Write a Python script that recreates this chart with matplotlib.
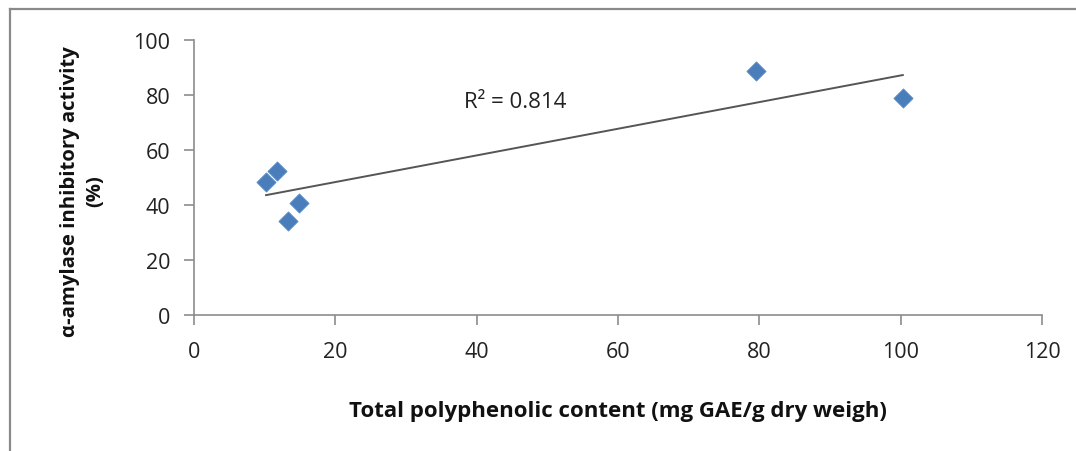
import numpy as np
import matplotlib.pyplot as plt
from matplotlib.lines import Line2D

plt.rcParams['font.family'] = ['Open Sans', 'DejaVu Sans']

# Total polyphenolic content vs alpha-amylase inhibition
polyphenols = [10.2, 11.7, 13.3, 14.9, 79.5, 100.3]
inhibition = [48.4, 52.4, 34.2, 40.7, 88.7, 78.9]
x_ticks = [0, 20, 40, 60, 80, 100, 120]
y_ticks = [0, 20, 40, 60, 80, 100]
r2_label = "R\u00b2 = 0.814"

fig = plt.figure(figsize=(10.76, 4.52), dpi=100)
ax = fig.add_axes([0.1803, 0.3009, 0.7881, 0.6084])

ax.scatter(polyphenols, inhibition, marker='D', s=95, color='#4A7EBB',
           edgecolor='#5B8BC6', linewidth=0.6, zorder=3)

# Linear trend line across the data range
xs = np.array(polyphenols)
ys = np.array(inhibition)
slope, intercept = np.polyfit(xs, ys, 1)
xl = np.array([xs.min(), xs.max()])
ax.plot(xl, slope * xl + intercept, color='#555555', lw=1.4, zorder=2)

ax.text(38.2, 77.5, r2_label, ha='left', va='center', fontsize=16,
        color='#222222')

ax.set_xlim(0, 120)
ax.set_ylim(0, 100)
ax.set_xticks(x_ticks)
ax.set_yticks(y_ticks)
for s in ['top', 'right']:
    ax.spines[s].set_visible(False)
for s in ['left', 'bottom']:
    ax.spines[s].set_color('#8c8c8c')
    ax.spines[s].set_linewidth(1.2)
ax.tick_params(axis='y', direction='out', length=7, width=1.2, color='#8c8c8c',
               pad=10, labelsize=15.5, labelcolor='#222222')
ax.tick_params(axis='x', direction='out', length=7, width=1.2, color='#8c8c8c',
               pad=12, labelsize=15.5, labelcolor='#222222')

fig.text(0.077, 0.577, "\u03b1-amylase inhibitory activity\n(%)", rotation=90,
         ha='center', va='center', fontsize=14.6, fontweight='bold',
         color='#111111', linespacing=1.35)
fig.text(0.574, 0.09, "Total polyphenolic content (mg GAE/g dry weigh)",
         ha='center', va='center', fontsize=16, fontweight='bold', color='#111111')

# Outer chart frame
fig.add_artist(Line2D([0.0093, 1.0], [0.978, 0.978], transform=fig.transFigure,
                      color='#8a8a8a', lw=1.6))
fig.add_artist(Line2D([0.0093, 0.0093], [0.0, 0.978], transform=fig.transFigure,
                      color='#8a8a8a', lw=1.6))

fig.savefig('out.png', dpi=100)
